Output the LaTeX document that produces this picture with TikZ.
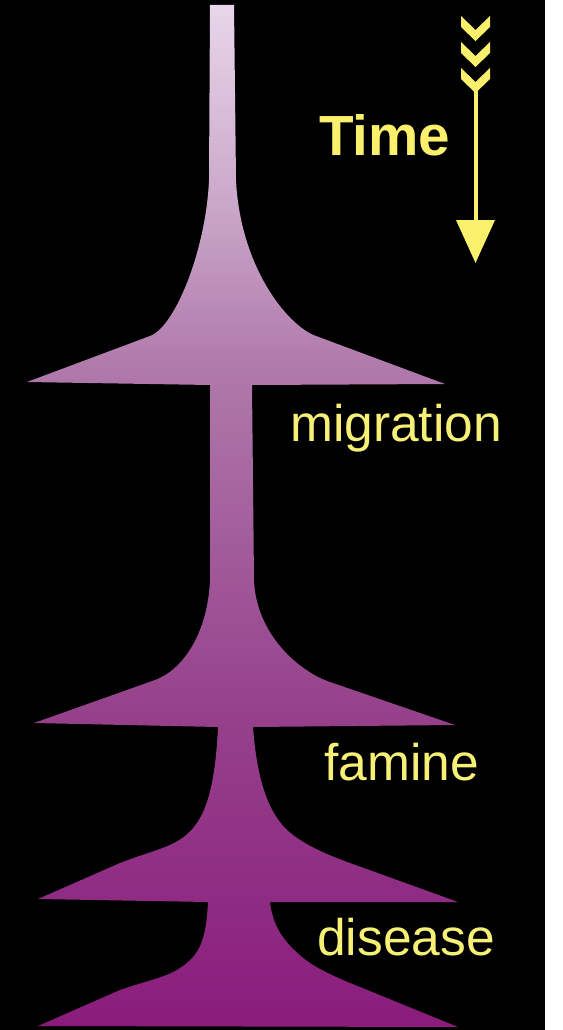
\documentclass[tikz,border=0pt]{standalone}
\usepackage{fontspec}
\setmainfont{Liberation Sans}
\usetikzlibrary{arrows.meta}
\definecolor{bgblack}{RGB}{0,0,0}
\definecolor{labelyellow}{RGB}{246,240,118}
\definecolor{timeyellow}{RGB}{250,240,108}
\definecolor{shA}{RGB}{138,28,124}
\definecolor{shB}{RGB}{150,65,140}
\definecolor{shC}{RGB}{175,120,170}
\definecolor{shD}{RGB}{203,168,202}
\definecolor{shE}{RGB}{232,214,234}
\pgfdeclareverticalshading{popshade}{100bp}{color(0bp)=(shA); color(25bp)=(shA); color(40.5bp)=(shB); color(57bp)=(shC); color(65.5bp)=(shD); color(75bp)=(shE); color(100bp)=(shE)}
\tikzset{
  label text/.style={text=labelyellow, inner sep=0pt, anchor=base west, font=\fontsize{51.5}{60}\selectfont},
  time text/.style={text=timeyellow, inner sep=0pt, anchor=base west, font=\fontsize{56.6}{66}\selectfont\bfseries},
  chevron/.style={fill=timeyellow, draw=none},
  time arrow/.style={draw=timeyellow, line width=4pt, -{Triangle[length=43pt,width=38pt]}}
}
\begin{document}
\begin{tikzpicture}[x=1pt,y=-1pt]
\useasboundingbox (0,0) rectangle (562,1030);
\fill[bgblack] (0,0) rectangle (545,1030);
\fill[white] (545,0) rectangle (562,1030);
% population shape
\shade[shading=popshade]
  (210,5) -- (209,180)
  .. controls (206,250) and (175,327) .. (150,336)
  -- (27,382) -- (210,385) -- (210,580)
  .. controls (208,630) and (185,669) .. (155,680)
  -- (34,723) -- (218,727)
  .. controls (215,790) and (205,820) .. (185,836)
  .. controls (170,848) and (148,852) .. (120,863)
  -- (38,899) -- (208,902)
  .. controls (206,940) and (200,955) .. (180,968)
  .. controls (165,978) and (145,981) .. (120,990)
  -- (38,1026) -- (458,1027) -- (360,987)
  .. controls (335,977) and (315,968) .. (302,957)
  .. controls (288,945) and (273,930) .. (270,902)
  -- (458,902) -- (350,863)
  .. controls (325,854) and (300,843) .. (285,828)
  .. controls (268,810) and (257,780) .. (253,727)
  -- (455,725) -- (330,682)
  .. controls (300,672) and (256,635) .. (254,580)
  -- (252,385) -- (445,384) -- (316,336)
  .. controls (286,325) and (240,265) .. (236,180)
  -- (234,5) -- cycle;
% labels
\node[label text] (migration) at (290,441) {migration};
\node[label text] (famine) at (324,780) {famine};
\node[label text] (disease) at (317,955) {disease};
\node[time text] (time) at (319,155) {Time};
% time arrow
\foreach \y in {16,42,68}{
  \fill[chevron] (461,\y) -- (475.5,\y+14) -- (490,\y) -- (490,\y+11) -- (475.5,\y+25) -- (461,\y+11) -- cycle;
}
\coordinate (tail) at (475.5,88);
\coordinate (head) at (475.5,263);
\draw[time arrow] (tail) -- (head);
\end{tikzpicture}
\end{document}
